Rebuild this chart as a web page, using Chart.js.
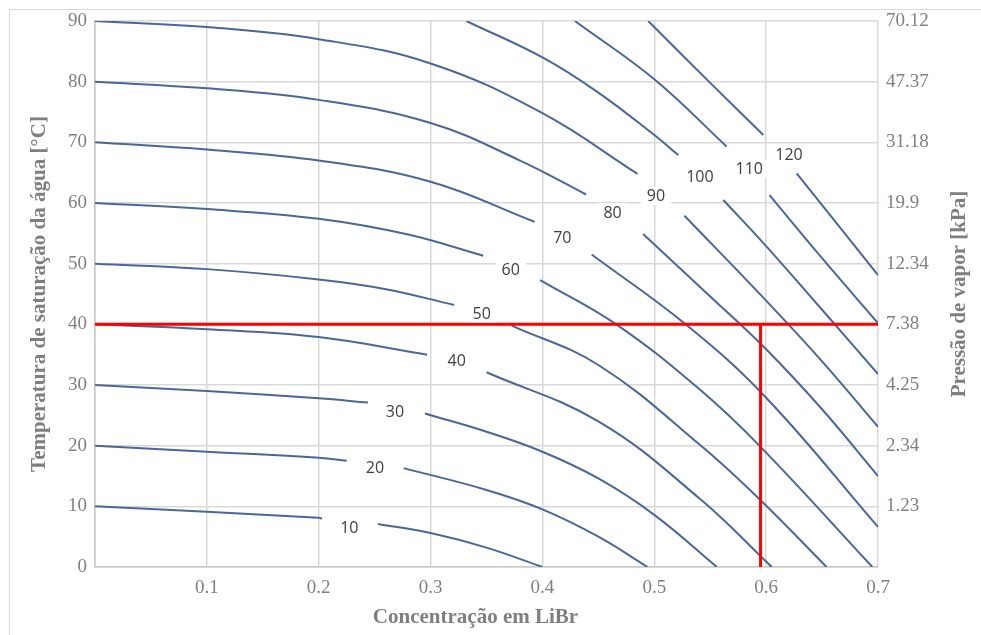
<!DOCTYPE html>
<html>
<head>
<meta charset="utf-8">
<script src="https://cdn.jsdelivr.net/npm/chart.js@4.4.1/dist/chart.umd.min.js"></script>
<style>
  html, body { margin: 0; padding: 0; background: #fff; overflow: hidden; }
  #wrap { position: relative; width: 981px; height: 635px; overflow: hidden; }
  #frame { position: absolute; left: 9px; top: 9px; width: 1000px; height: 660px; border: 1px solid #d9d9d9; }
  canvas { position: absolute; left: 0; top: 0; }
</style>
</head>
<body>
<div id="wrap">
  <div id="frame"></div>
  <canvas id="chart" width="981" height="635"></canvas>
</div>
<script>
// isotermas da solução (°C); null = corte onde fica o rótulo
const isoTemps = [10, 20, 30, 40, 50, 60, 70, 80, 90, 100, 110, 120];

const iso10 = [[0, 10], [0.1, 9.1], [0.2, 8.1], [0.203, 8.0], null,
  [0.253, 7.1], [0.3, 5.6], [0.35, 3.2], [0.4, 0]];
const iso20 = [[0, 20], [0.1, 19.0], [0.2, 18.0], [0.225, 17.5], null,
  [0.276, 16.3], [0.35, 12.7], [0.4, 9.5], [0.45, 5.0], [0.494, 0]];
const iso30 = [[0, 30], [0.1, 29.0], [0.2, 27.8], [0.244, 27.1], null,
  [0.295, 25.3], [0.35, 22.3], [0.4, 19.0], [0.45, 14.6], [0.5, 8.6], [0.556, 0]];
const iso40 = [[0, 40], [0.1, 39.2], [0.2, 37.9], [0.297, 35.0], null,
  [0.35, 32.1], [0.45, 24.0], [0.541, 11.2], [0.605, 0]];
const iso50 = [[0, 50], [0.1, 49.1], [0.2, 47.4], [0.26, 45.8], [0.321, 43.2], null,
  [0.3725, 39.8], [0.45, 33.3], [0.541, 20.1], [0.595, 11.0], [0.654, 0]];
const iso60 = [[0, 60], [0.1, 59.0], [0.2, 57.4], [0.28, 54.8], [0.347, 51.3], null,
  [0.398, 47.3], [0.466, 40.0], [0.541, 29.2], [0.595, 19.8], [0.695, 0]];
const iso70 = [[0, 70], [0.1, 68.8], [0.2, 67.0], [0.3, 63.5], [0.393, 56.9], null,
  [0.444, 51.5], [0.528, 40.0], [0.6, 27.9], [0.7, 6.6]];
const iso80 = [[0, 80], [0.1, 78.9], [0.2, 77.0], [0.3, 73.2], [0.38, 67.0], [0.439, 61.4], null,
  [0.49, 54.9], [0.55, 44.6], [0.6, 35.9], [0.65, 26.0], [0.7, 15.0]];
const iso90 = [[0, 90], [0.1, 89.0], [0.2, 87.0], [0.3, 83.0], [0.4, 74.8], [0.485, 64.8], null,
  [0.527, 57.9], [0.6, 43.9], [0.65, 33.9], [0.7, 23.1]];
const iso100 = [[0.332, 90], [0.4, 84.0], [0.45, 78.2], [0.5, 71.2], [0.5215, 67.9], null,
  [0.5617, 60.5], [0.6, 52.9], [0.65, 42.4], [0.7, 31.8]];
const iso110 = [[0.429, 90], [0.5, 80.4], [0.5647, 69.3], null,
  [0.603, 61.3], [0.65, 50.9], [0.7, 40.2]];
const iso120 = [[0.4946, 90], [0.55, 79.8], [0.5975, 71.2], null,
  [0.6273, 64.9], [0.7, 48.1]];

const isoCurves = [iso10, iso20, iso30, iso40, iso50, iso60, iso70, iso80, iso90, iso100, iso110, iso120];

// onde cada rótulo de isoterma fica (concentração, temperatura)
const isoLabelX = [0.2274, 0.2503, 0.2682, 0.3233, 0.3457, 0.3716, 0.4178, 0.4627, 0.5015, 0.5408, 0.5849, 0.6204];
const isoLabelY = [6.5, 16.4, 25.6, 34.0, 41.8, 49.0, 54.4, 58.5, 61.2, 64.3, 65.7, 68.0];

// ponto de leitura (linhas vermelhas)
const readConc = 0.595;
const readTemp = 40;

// eixos
const concTicks = [0, 0.1, 0.2, 0.3, 0.4, 0.5, 0.6, 0.7];
const concTickLabels = ['', '0.1', '0.2', '0.3', '0.4', '0.5', '0.6', '0.7'];
const tempTicks = [0, 10, 20, 30, 40, 50, 60, 70, 80, 90];
const pressureLabels = ['', '1.23', '2.34', '4.25', '7.38', '12.34', '19.9', '31.18', '47.37', '70.12'];

const xTitle = 'Concentração em LiBr';
const yTitle = 'Temperatura de saturação da água [°C]';
const y2Title = 'Pressão de vapor [kPa]';

const CURVE_COLOR = '#4a6795';
const GRID_COLOR = '#d9d9d9';
const TICK_FONT = { family: "'Liberation Serif', 'Times New Roman', serif", size: 19 };

function toPoints(arr) {
    const out = [];
    arr.forEach((p, i) => {
        if (p === null) out.push({ x: arr[i - 1][0], y: null });
        else out.push({ x: p[0], y: p[1] });
    });
    return out;
}

const datasets = [
    {
        label: 'leitura T',
        data: [{ x: 0, y: readTemp }, { x: 0.7, y: readTemp }],
        borderColor: '#ff0000', borderWidth: 3, tension: 0
    },
    {
        label: 'leitura X',
        data: [{ x: readConc, y: 0 }, { x: readConc, y: readTemp }],
        borderColor: '#ff0000', borderWidth: 3, tension: 0
    }
];
isoCurves.forEach((c, i) => {
    datasets.push({
        label: isoTemps[i] + ' °C',
        data: toPoints(c),
        borderColor: CURVE_COLOR,
        borderWidth: 2,
        tension: 0.4,
        spanGaps: false
    });
});

// rótulos das isotermas com fundo branco
const isoLabelPlugin = {
    id: 'isoLabels',
    afterDatasetsDraw(chart) {
        const { ctx, scales: { x, y } } = chart;
        ctx.save();
        ctx.font = "16px 'Open Sans', sans-serif";
        ctx.textAlign = 'center';
        ctx.textBaseline = 'middle';
        isoTemps.forEach((t, i) => {
            const px = x.getPixelForValue(isoLabelX[i]);
            const py = y.getPixelForValue(isoLabelY[i]);
            const txt = String(t);
            const w = ctx.measureText(txt).width + 12;
            ctx.fillStyle = '#ffffff';
            ctx.fillRect(px - w / 2, py - 9, w, 18);
            ctx.fillStyle = '#404040';
            ctx.fillText(txt, px, py + 1);
        });
        ctx.restore();
    }
};

// títulos dos eixos (o da direita também lido de baixo para cima)
const axisTitlePlugin = {
    id: 'axisTitles',
    afterDraw(chart) {
        const { ctx, chartArea: a } = chart;
        const midY = (a.top + a.bottom) / 2;
        ctx.save();
        ctx.font = "bold 21px 'Liberation Serif', 'Times New Roman', serif";
        ctx.fillStyle = '#7f7f7f';
        ctx.textAlign = 'center';
        ctx.textBaseline = 'middle';
        ctx.fillText(xTitle, (a.left + a.right) / 2 - 11, a.bottom + 51);

        ctx.save();
        ctx.translate(a.left - 55, midY);
        ctx.rotate(-Math.PI / 2);
        ctx.fillText(yTitle, 0, 0);
        ctx.restore();

        ctx.save();
        ctx.translate(a.right + 82, midY);
        ctx.rotate(-Math.PI / 2);
        ctx.fillText(y2Title, 0, 0);
        ctx.restore();

        ctx.restore();
    }
};

const ctx = document.getElementById('chart').getContext('2d');
new Chart(ctx, {
    type: 'scatter',
    data: { datasets: datasets },
    options: {
        responsive: false,
        animation: false,
        showLine: true,
        layout: { padding: { top: 21, left: 0, right: 0, bottom: 0 } },
        elements: { point: { radius: 0, hoverRadius: 0 } },
        plugins: {
            legend: { display: false },
            tooltip: { enabled: false }
        },
        scales: {
            x: {
                type: 'linear', min: 0, max: 0.7,
                afterBuildTicks: s => { s.ticks = concTicks.map(v => ({ value: v })); },
                afterFit: s => { s.height = 68; },
                ticks: {
                    callback: (v, i) => concTickLabels[i],
                    font: TICK_FONT, color: '#808080',
                    padding: 10, autoSkip: false, maxRotation: 0
                },
                grid: { color: GRID_COLOR, lineWidth: 1.5, drawTicks: false },
                border: { color: '#c8c8c8', width: 1.5 }
            },
            y: {
                type: 'linear', position: 'left', min: 0, max: 90,
                afterBuildTicks: s => { s.ticks = tempTicks.map(v => ({ value: v })); },
                afterFit: s => { s.width = 95; },
                ticks: { font: TICK_FONT, color: '#808080', padding: 8 },
                grid: { color: GRID_COLOR, lineWidth: 1.5, drawTicks: false },
                border: { color: '#c8c8c8', width: 1.5 }
            },
            y2: {
                type: 'linear', position: 'right', min: 0, max: 90,
                afterBuildTicks: s => { s.ticks = tempTicks.map(v => ({ value: v })); },
                afterFit: s => { s.width = 103; },
                ticks: {
                    callback: (v, i) => pressureLabels[i],
                    font: TICK_FONT, color: '#808080', padding: 8
                },
                grid: { display: false, drawTicks: false },
                border: { display: false }
            }
        }
    },
    plugins: [isoLabelPlugin, axisTitlePlugin]
});
</script>
</body>
</html>
